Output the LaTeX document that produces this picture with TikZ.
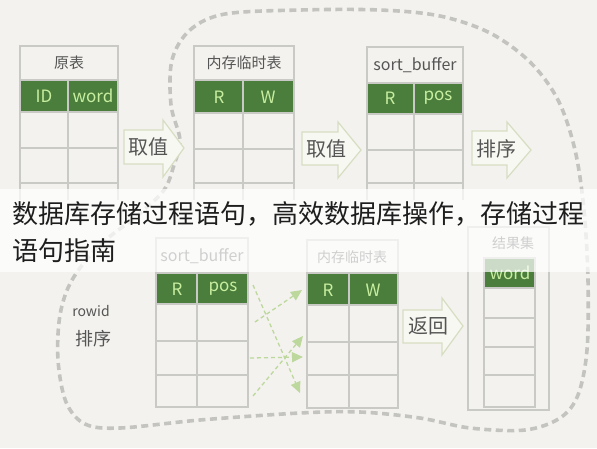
\documentclass[tikz,border=0pt]{standalone}
\usepackage{fontspec}
\setmainfont{Noto Sans CJK SC}
\usetikzlibrary{arrows.meta}
\definecolor{bgc}{HTML}{F3F2EE}
\definecolor{linegray}{HTML}{C9C9C5}
\definecolor{hdrgreen}{HTML}{4B7E3C}
\definecolor{hdrtext}{HTML}{C8EEA0}
\definecolor{titletext}{HTML}{555555}
\definecolor{arrowfill}{HTML}{F7F8F1}
\definecolor{arrowline}{HTML}{D6DEC2}
\definecolor{dashgray}{HTML}{B4B4B0}
\definecolor{lgreen}{HTML}{BCD89C}
\definecolor{captext}{HTML}{1E1E1E}
\begin{document}
\begin{tikzpicture}[x=1pt,y=-1pt,
  tline/.style={draw=linegray,line width=1.1pt},
  hdrfill/.style={fill=hdrgreen},
  ttl/.style={font=\fontsize{15}{16}\selectfont,text=titletext,inner sep=0pt},
  hd/.style={font=\fontsize{17}{18}\selectfont,text=hdrtext,inner sep=0pt},
  arrtext/.style={font=\fontsize{20}{21}\selectfont,text=titletext,inner sep=0pt},
  blockarrow/.style={fill=arrowfill,draw=arrowline,line width=1.2pt,line join=miter},
  dashcurve/.style={draw=dashgray,line width=3.6pt,dash pattern=on 7pt off 4.5pt,opacity=0.75},
  greenarrow/.style={draw=lgreen,line width=1.3pt,dash pattern=on 4pt off 3pt,
     -{Triangle[width=10pt,length=11pt,fill=lgreen]}},
  captxt/.style={font=\fontsize{26}{26}\selectfont,text=captext,inner sep=0pt,anchor=west}
]
\useasboundingbox (0,0) rectangle (597,448);
\fill[bgc] (0,0) rectangle (597,448);

% big dashed boundary
\draw[dashcurve] plot[smooth cycle,tension=0.55] coordinates {
 (172,60) (190,30) (225,14) (300,10) (380,10) (440,16) (490,33) (530,62)
 (558,100) (575,150) (584,210) (588,280) (587,350) (578,395) (560,418)
 (525,430) (470,428) (420,418) (360,412) (300,413) (200,420) (120,428)
 (85,424) (66,402) (58,360) (60,315) (72,280) (100,245) (138,215)
 (164,190) (174,165) (180,140) (171,105)};

% ---------- table 1: 原表
\fill[hdrfill] (20,80) rectangle (118,112);
\draw[tline] (20,200) -- (20,46) -- (118,46) -- (118,200);
\draw[tline] (20,80) -- (118,80) (20,112) -- (118,112) (20,148) -- (118,148)
  (20,183) -- (118,183) (68,80) -- (68,200);
\node[ttl] (t1t) at (69,63) {原表};
\node[hd] (t1a) at (44,96) {ID};
\node[hd] (t1b) at (93,96) {word};

% ---------- table 2: 内存临时表
\fill[hdrfill] (194,80) rectangle (294,113);
\draw[tline] (194,200) -- (194,46) -- (294,46) -- (294,200);
\draw[tline] (194,80) -- (294,80) (194,113) -- (294,113) (194,149) -- (294,149)
  (194,183) -- (294,183) (243,80) -- (243,200);
\node[ttl] (t2t) at (244,63) {内存临时表};
\node[hd] (t2a) at (219,97) {R};
\node[hd] (t2b) at (268,97) {W};

% ---------- table 3: sort_buffer
\fill[hdrfill] (367,83) rectangle (463,114);
\draw[tline] (367,200) -- (367,47) -- (463,47) -- (463,200);
\draw[tline] (367,83) -- (463,83) (367,114) -- (463,114) (367,150) -- (463,150)
  (367,183) -- (463,183) (414,83) -- (414,200);
\node[ttl,font=\fontsize{16}{17}\selectfont] (t3t) at (415,65) {sort\_buffer};
\node[hd] (t3a) at (390,98) {R};
\node[hd] (t3b) at (438,98) {pos};

% ---------- block arrows (top)
\draw[blockarrow] (124,130) -- (163,130) -- (163,120) -- (184,148) -- (163,177)
  -- (163,164) -- (124,164) -- cycle;
\node[arrtext] (a1t) at (148,147) {取值};
\draw[blockarrow] (302,132) -- (338,132) -- (338,122) -- (361,150) -- (338,178)
  -- (338,165) -- (302,165) -- cycle;
\node[arrtext] (a2t) at (326,149) {取值};
\draw[blockarrow] (472,131) -- (507,131) -- (507,122) -- (531,150) -- (507,178)
  -- (507,165) -- (472,165) -- cycle;
\node[arrtext] (a3t) at (496,149) {排序};

% ---------- rowid 排序
\node[ttl,font=\fontsize{14}{15}\selectfont] (rw) at (91,311) {rowid};
\node[ttl,font=\fontsize{18}{19}\selectfont] (rs) at (93,339) {排序};

% ---------- table 4: sort_buffer (lower)
\fill[hdrfill] (156,273) rectangle (248,304);
\draw[tline] (156,238) rectangle (248,407);
\draw[tline] (156,273) -- (248,273) (156,304) -- (248,304) (156,341) -- (248,341)
  (156,375) -- (248,375) (197,273) -- (197,407);
\node[ttl,font=\fontsize{16}{17}\selectfont] (t4t) at (202,256) {sort\_buffer};
\node[hd] (t4a) at (177,289) {R};
\node[hd] (t4b) at (223,289) {pos};

% ---------- table 5: 内存临时表 (lower)
\fill[hdrfill] (307,273) rectangle (398,305);
\draw[tline] (307,240) rectangle (398,408);
\draw[tline] (307,273) -- (398,273) (307,305) -- (398,305) (307,342) -- (398,342)
  (307,375) -- (398,375) (349,273) -- (349,408);
\node[ttl,font=\fontsize{14}{15}\selectfont] (t5t) at (352,257) {内存临时表};
\node[hd] (t5a) at (328,290) {R};
\node[hd] (t5b) at (373,290) {W};

% ---------- dashed green arrows
\coordinate (g1s) at (253,285); \coordinate (g1e) at (300,393);
\coordinate (g2s) at (255,322); \coordinate (g2e) at (302,290);
\coordinate (g3s) at (250,358); \coordinate (g3e) at (303,357);
\coordinate (g4s) at (253,396); \coordinate (g4e) at (303,336);
\draw[greenarrow] (g1s) -- (g1e);
\draw[greenarrow] (g2s) -- (g2e);
\draw[greenarrow] (g3s) -- (g3e);
\draw[greenarrow] (g4s) -- (g4e);

% ---------- 返回 arrow
\draw[blockarrow] (403,310) -- (442,310) -- (442,298) -- (463,326) -- (442,355)
  -- (442,343) -- (403,343) -- cycle;
\node[arrtext] (a4t) at (428,326) {返回};

% ---------- table 6: 结果集
\draw[tline] (468,227) rectangle (549,410);
\fill[hdrfill] (484,258) rectangle (535,288);
\draw[tline] (484,258) rectangle (535,407);
\draw[tline] (484,288) -- (535,288) (484,318) -- (535,318) (484,347) -- (535,347)
  (484,375) -- (535,375);
\node[ttl,font=\fontsize{14}{15}\selectfont] (t6t) at (513,243) {结果集};
\node[hd] (t6a) at (510,273) {word};

% ---------- caption band
\fill[white,opacity=0.72] (0,189) rectangle (597,272);
\node[captxt] (c1) at (12,214) {数据库存储过程语句，高效数据库操作，存储过程};
\node[captxt] (c2) at (12,251) {语句指南};
\end{tikzpicture}
\end{document}
